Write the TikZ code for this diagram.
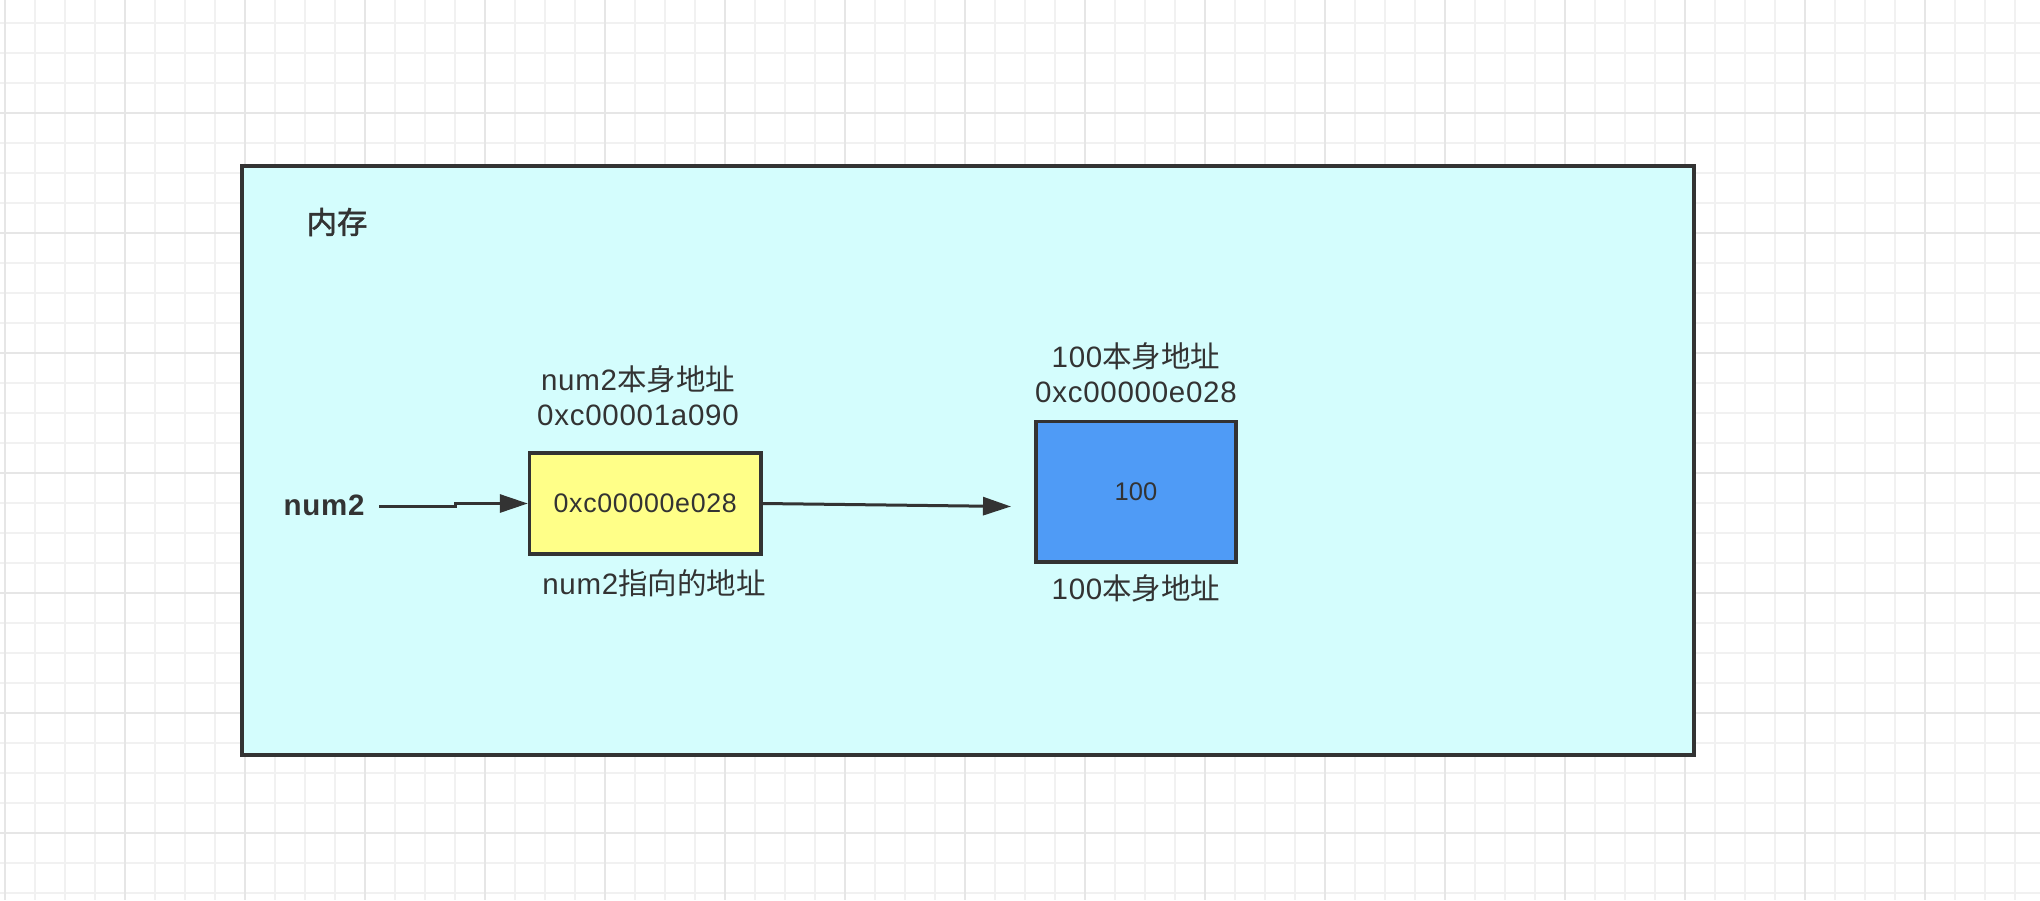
\documentclass[tikz,border=0pt]{standalone}
\usepackage{fontspec}
\setmainfont{Liberation Sans}[LetterSpace=2.5]
\newfontfamily\plainlatin{Liberation Sans}
\newfontfamily\cjk{Noto Sans CJK SC}[AutoFakeBold=1.5]
\usetikzlibrary{arrows.meta}
\definecolor{ink}{HTML}{333333}
\definecolor{memfill}{HTML}{D4FDFD}
\definecolor{yelfill}{HTML}{FFFF88}
\definecolor{bluefill}{HTML}{4F9BF6}
\definecolor{gridminor}{HTML}{F1F1F1}
\definecolor{gridmajor}{HTML}{E6E6E6}
\tikzset{
  minorline/.style={draw=gridminor, line width=0.8pt},
  majorline/.style={draw=gridmajor, line width=0.9pt},
  membox/.style={draw=ink, fill=memfill, line width=1.7pt, minimum width=726pt, minimum height=294.5pt, inner sep=0pt},
  cell/.style={draw=ink, line width=1.7pt, inner sep=0pt, text=ink},
  lbl/.style={inner sep=0pt, text=ink, align=center, font=\fontsize{14.75}{17.5}\selectfont},
  arr/.style={draw=ink, line width=1.5pt, -{Triangle[length=14pt, width=9pt]}},
}
\begin{document}
\begin{tikzpicture}[x=0.5pt, y=-0.5pt]
\useasboundingbox (0,0) rectangle (2040,900);
\fill[white] (0,0) rectangle (2040,900);
% grid
\foreach \x in {5,35,...,2040} \draw[minorline] (\x,0) -- (\x,900);
\foreach \y in {-7,23,...,900} \draw[minorline] (0,\y) -- (2040,\y);
\foreach \x in {5,125,...,2040} \draw[majorline] (\x,0) -- (\x,900);
\foreach \y in {-7,113,...,900} \draw[majorline] (0,\y) -- (2040,\y);
% memory area
\node[membox] (mem) at (968,460.5) {};
\node[inner sep=0pt, text=ink, font=\cjk\bfseries\fontsize{15.25}{18}\selectfont] (title) at (337,222) {内存};
% pointer variable
\node[inner sep=0pt, text=ink, font=\bfseries\fontsize{14.75}{17.5}\selectfont] (num2) at (324,505) {num2};
\node[cell, fill=yelfill, minimum width=115.75pt, minimum height=50.5pt, font=\fontsize{13.4}{16}\selectfont] (yb) at (645.25,503.5) {0xc00000e028};
\node[lbl] (ytop) at (638,396) {num2{\cjk 本身地址}\\0xc00001a090};
\node[lbl] (ybot) at (654,583) {num2{\cjk 指向的地址}};
% value
\node[cell, fill=bluefill, minimum width=100pt, minimum height=70.25pt, font=\plainlatin\fontsize{12.75}{15}\selectfont] (bb) at (1136,491.75) {100};
\node[lbl] (btop) at (1136,372.5) {100{\cjk 本身地址}\\0xc00000e028};
\node[lbl] (bbot) at (1136,588) {100{\cjk 本身地址}};
% connectors
\coordinate (a1s) at (379,506);
\coordinate (a2e) at (1011,506.5);
\draw[arr] (a1s) -- (455,506) -- (455,503.5) -- (yb.west);
\draw[arr] (yb.east) -- (a2e);
\end{tikzpicture}
\end{document}
